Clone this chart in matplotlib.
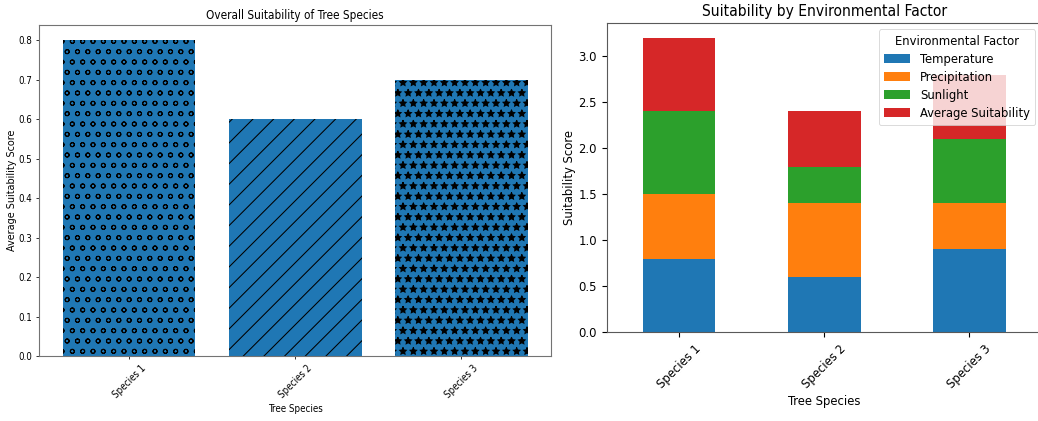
import numpy as np
import matplotlib
matplotlib.use("Agg")
import matplotlib.pyplot as plt
import pandas as pd

# data
species = ["Species 1", "Species 2", "Species 3"]
avg_suitability = [0.8, 0.6, 0.7]
temperature = [0.8, 0.6, 0.9]
precipitation = [0.7, 0.8, 0.5]
sunlight = [0.9, 0.4, 0.7]
hatches = ["o", "/", "*"]

W, H = 1038, 421
DPI = 62.5
S = 100 / DPI  # sizes below are given as if rendered at 100 dpi
F = 0.93 * S   # text scale for the right panel

plt.rcParams["font.family"] = ["Liberation Sans Narrow", "DejaVu Sans"]
plt.rcParams["font.stretch"] = "condensed"
plt.rcParams.update({
    "font.size": 10 * F,
    "axes.linewidth": 0.8 * S,
    "axes.titlepad": 6 * S,
    "axes.labelpad": 4 * S,
    "xtick.major.size": 3.5 * S,
    "ytick.major.size": 3.5 * S,
    "xtick.major.width": 0.8 * S,
    "ytick.major.width": 0.8 * S,
    "xtick.major.pad": 3.5 * S,
    "ytick.major.pad": 3.5 * S,
    "hatch.linewidth": 1.2,
    "legend.edgecolor": "0.8",
})

fig = plt.figure(figsize=(W / DPI, H / DPI), dpi=DPI)

def px_box(x0, y0, x1, y1):
    return [x0 / W, 1 - y1 / H, (x1 - x0) / W, (y1 - y0) / H]

# left: overall suitability (drawn smaller, like the reference)
k = 0.7
ax1 = fig.add_axes(px_box(39.3, 24.5, 551, 356))
bars = ax1.bar(species, avg_suitability, color="#1f77b4")
for b, h in zip(bars, hatches):
    b.set_hatch(h)
ax1.set_title("Overall Suitability of Tree Species", fontsize=12 * k * S, pad=6 * k * S)
ax1.set_xlabel("Tree Species", fontsize=10 * k * S, labelpad=4 * k * S)
ax1.set_ylabel("Average Suitability Score", fontsize=11 * k * S, labelpad=1 * S)
ax1.tick_params(labelsize=10 * k * S, length=3.5 * k * S, width=0.8 * k * S, pad=3.5 * k * S)
for sp in ax1.spines.values():
    sp.set_linewidth(0.8 * S)
    sp.set_edgecolor("0.45")
plt.setp(ax1.get_xticklabels(), rotation=45)

# right: stacked factors
df = pd.DataFrame({
    "Temperature": temperature,
    "Precipitation": precipitation,
    "Sunlight": sunlight,
    "Average Suitability": avg_suitability,
}, index=species)
ax2 = fig.add_axes(px_box(606.7, 23, 1041.8, 332.3))
df.plot(kind="bar", stacked=True, ax=ax2, rot=45)
ax2.set_title("Suitability by Environmental Factor", fontsize=12 * F, pad=5 * S)
ax2.set_xlabel("Tree Species", labelpad=3 * S)
ax2.set_ylabel("Suitability Score", labelpad=1.5 * S)
for sp in ax2.spines.values():
    sp.set_edgecolor("0.35")
ax2.legend(title="Environmental Factor", loc="upper right", labelspacing=0.4)

fig.savefig("out.png", dpi=DPI)
